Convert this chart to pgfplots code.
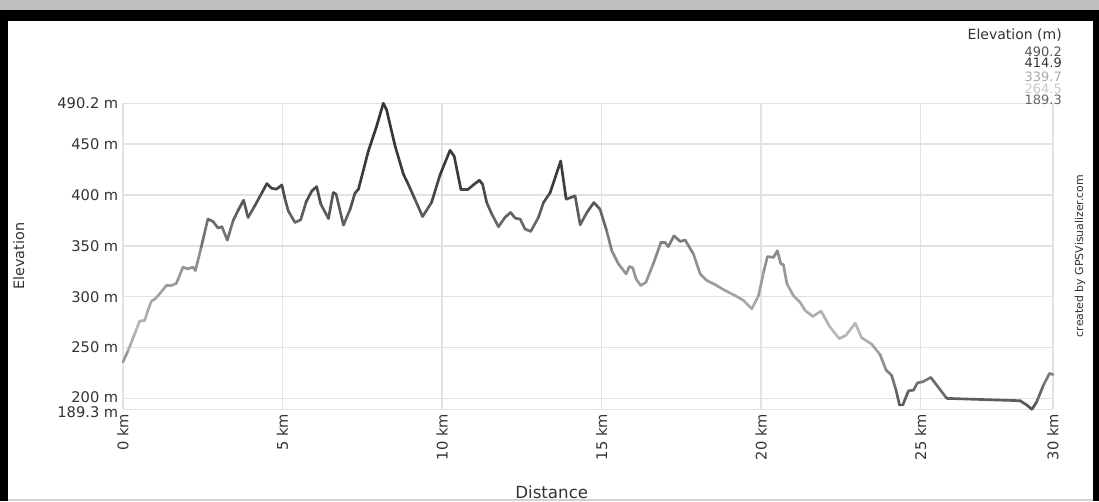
\documentclass[border=0pt]{standalone}
\usepackage{fontspec}
\setmainfont{DejaVu Sans}
\usepackage{pgfplots}
\pgfplotsset{compat=1.18}
\definecolor{gridgray}{HTML}{E2E2E2}
\definecolor{txt}{HTML}{333333}

\begin{document}
\begin{tikzpicture}
% page frame: 1099 x 501 px at 0.75pt per px
\path[use as bounding box] (0,0) rectangle (824.25pt,375.75pt);
\fill[white] (0,0) rectangle (824.25pt,375.75pt);
\fill[gray!50] (0,368.25pt) rectangle (824.25pt,375.75pt);
\fill[black] (0,360pt) rectangle (824.25pt,368.25pt);
\fill[black] (0,0) rectangle (6pt,368pt);
\fill[black] (819.75pt,0) rectangle (824.25pt,368pt);
\fill[gray!35] (6pt,0) rectangle (819.75pt,1.2pt);

\begin{axis}[
  scale only axis,
  width=697.5pt, height=229.5pt,
  at={(92.25pt,68.8pt)}, anchor=south west,
  xmin=0, xmax=29.15,
  ymin=189.3, ymax=490.2,
  clip=false,
  axis line style={draw=none},
  tick style={draw=none},
  grid=major,
  grid style={gridgray, line width=1.1pt},
  xtick={0,5,10,15,20,25,29.15},
  xticklabels={0 km,5 km,10 km,15 km,20 km,25 km,30 km},
  ytick={200,250,300,350,400,450,490.2},
  yticklabels={\raisebox{2pt}{200 m},250 m,300 m,350 m,400 m,450 m,490.2 m},
  extra y ticks={189.3},
  extra y tick labels={189.3 m},
  extra y tick style={grid=major, yticklabel style={yshift=-2.5pt}},
  xticklabel style={rotate=90, anchor=east, text=txt, font=\fontsize{11}{11}\selectfont},
  yticklabel style={text=txt, font=\fontsize{11}{11}\selectfont},
  xlabel={Distance},
  xlabel style={at={(rel axis cs:0.461,-0.272)}, anchor=center, text=txt, font=\fontsize{12.5}{13}\selectfont},
  ylabel={Elevation},
  ylabel style={at={(rel axis cs:-0.112,0.5)}, anchor=center, text=txt, font=\fontsize{10.8}{11}\selectfont},
  colormap={elev}{rgb255(0cm)=(80,80,80); rgb255(1cm)=(185,185,185); rgb255(2cm)=(140,140,140); rgb255(3cm)=(60,60,60); rgb255(4cm)=(52,52,52)},
  point meta min=189.3, point meta max=490.2,
]
\addplot[mesh, point meta=y, line width=2pt, line cap=round, line join=round] table {
x y
0.00 235.8
0.16 247.0
0.37 263.7
0.52 276.0
0.68 276.7
0.78 286.5
0.89 295.6
1.01 298.0
1.15 302.8
1.36 311.0
1.51 311.0
1.67 313.0
1.88 329.0
2.03 327.3
2.19 329.0
2.27 325.7
2.45 348.5
2.66 376.3
2.82 374.0
2.98 367.5
3.10 368.8
3.27 355.7
3.45 374.6
3.61 385.0
3.78 394.9
3.92 377.9
4.13 389.3
4.34 401.4
4.51 411.2
4.65 406.7
4.81 405.7
4.98 409.9
5.08 395.9
5.18 384.4
5.39 373.0
5.57 375.6
5.74 393.2
5.92 404.0
6.07 408.2
6.20 391.0
6.44 376.9
6.59 402.4
6.68 400.8
6.91 370.4
7.12 386.1
7.27 401.8
7.38 405.7
7.69 443.2
7.95 467.7
8.16 490.2
8.26 484.0
8.53 448.0
8.79 420.4
8.94 410.6
9.15 395.9
9.39 378.8
9.67 392.6
9.94 420.0
10.25 443.9
10.38 438.3
10.59 405.7
10.82 405.7
10.98 409.9
11.17 414.5
11.27 410.6
11.40 392.6
11.56 381.2
11.77 368.8
11.97 377.9
12.15 382.8
12.29 377.3
12.45 376.3
12.60 366.5
12.78 364.2
13.02 377.9
13.18 392.6
13.39 402.4
13.72 433.4
13.89 395.9
14.17 399.1
14.33 370.7
14.54 382.8
14.76 392.6
14.95 386.1
15.16 364.8
15.32 345.2
15.53 332.2
15.77 322.4
15.87 329.6
15.98 328.3
16.08 317.5
16.23 311.0
16.39 314.2
16.62 332.2
16.86 353.4
16.99 353.4
17.09 349.2
17.27 359.9
17.46 354.4
17.62 355.7
17.88 342.0
18.09 322.4
18.30 315.9
18.56 311.9
18.87 306.1
19.18 301.2
19.45 296.3
19.71 288.1
19.92 301.2
20.09 325.7
20.20 339.4
20.39 338.7
20.51 345.2
20.62 332.2
20.70 331.5
20.81 312.6
21.01 301.2
21.22 294.6
21.38 286.5
21.62 280.6
21.88 285.8
22.16 270.1
22.45 258.8
22.66 262.0
22.95 274.0
23.15 259.7
23.47 253.2
23.73 243.0
23.92 227.7
24.09 222.8
24.23 208.1
24.34 193.4
24.44 193.4
24.62 207.4
24.78 208.1
24.90 215.3
25.07 216.3
25.32 220.6
25.82 200.0
28.12 197.7
28.33 193.4
28.49 189.3
28.64 196.7
28.85 213.0
29.04 224.5
29.15 223.5
};
\end{axis}

% colour key, top right
\node[anchor=east, inner sep=0pt, text=txt, font=\fontsize{10.5}{11}\selectfont] at (796.5pt,349.5pt) {Elevation (m)};
\node[anchor=east, inner sep=0pt, text={rgb,255:red,85;green,85;blue,85}, font=\fontsize{9.7}{10}\selectfont] at (796.5pt,337pt) {490.2};
\node[anchor=east, inner sep=0pt, text={rgb,255:red,51;green,51;blue,51}, font=\fontsize{9.7}{10}\selectfont] at (796.5pt,328.3pt) {414.9};
\node[anchor=east, inner sep=0pt, text={rgb,255:red,170;green,170;blue,170}, font=\fontsize{9.7}{10}\selectfont] at (796.5pt,318.2pt) {339.7};
\node[anchor=east, inner sep=0pt, text={rgb,255:red,200;green,200;blue,200}, font=\fontsize{9.7}{10}\selectfont] at (796.5pt,309.5pt) {264.5};
\node[anchor=east, inner sep=0pt, text={rgb,255:red,102;green,102;blue,102}, font=\fontsize{9.7}{10}\selectfont] at (796.5pt,300.75pt) {189.3};

\node[rotate=90, text=txt, font=\fontsize{8.2}{9}\selectfont] at (810pt,183.75pt) {created by GPSVisualizer.com};
\end{tikzpicture}
\end{document}
